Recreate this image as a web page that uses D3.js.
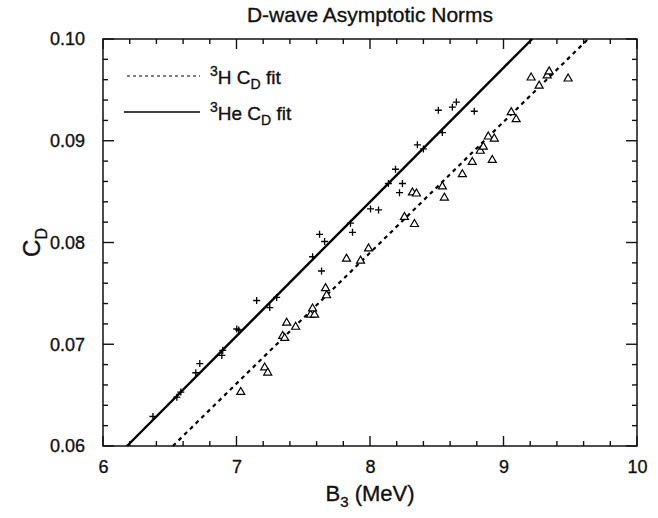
<!DOCTYPE html>
<html>
<head>
<meta charset="utf-8">
<script src="https://cdn.jsdelivr.net/npm/d3@7"></script>
<style>
  body { margin: 0; background: #fff; }
  svg { font-family: "Liberation Sans", Arial, sans-serif; }
  .lbl { fill: #111; stroke: #111; stroke-width: 0.35px; }
</style>
</head>
<body>
<script>
// chart size
const width = 658;
const height = 518;
const margin = { left: 103, right: 21, top: 39, bottom: 72 };

// 3He points (plus markers): binding energy (MeV) and C_D
const heB = [6.374, 6.553, 6.583, 6.695, 6.725, 6.890, 6.897, 7.002, 7.017, 7.151,
             7.249, 7.301, 7.570, 7.637, 7.622, 7.660, 7.854, 7.869, 8.004, 8.064,
             8.138, 8.221, 8.243, 8.191, 8.355, 8.400, 8.512, 8.542, 8.617, 8.647, 8.781];
const heC = [0.0629, 0.0648, 0.0653, 0.0672, 0.0681, 0.0689, 0.0694, 0.0715, 0.0714, 0.0743,
             0.0736, 0.0746, 0.0786, 0.0772, 0.0808, 0.0801, 0.0819, 0.0810, 0.0833, 0.0832,
             0.0858, 0.0849, 0.0858, 0.0872, 0.0896, 0.0892, 0.0930, 0.0908, 0.0933, 0.0938, 0.0929];

// 3H points (triangle markers)
const hB = [7.032, 7.211, 7.234, 7.346, 7.361, 7.376, 7.443, 7.555, 7.585, 7.570,
            7.667, 7.675, 7.824, 7.929, 7.989, 8.258, 8.333, 8.318, 8.348, 8.542,
            8.557, 8.692, 8.766, 8.916, 8.826, 8.849, 8.886, 8.931, 9.058, 9.095,
            9.267, 9.207, 9.327, 9.342, 9.484];
const hC = [0.0653, 0.0677, 0.0672, 0.0708, 0.0706, 0.0721, 0.0717, 0.0729, 0.0729, 0.0735,
            0.0755, 0.0748, 0.0784, 0.0782, 0.0794, 0.0825, 0.0818, 0.0849, 0.0848, 0.0855,
            0.0844, 0.0867, 0.0879, 0.0881, 0.0890, 0.0894, 0.0904, 0.0902, 0.0928, 0.0921,
            0.0954, 0.0962, 0.0964, 0.0968, 0.0961];

// linear fits (end points)
const heFitB = [6.18, 9.215];
const heFitC = [0.06, 0.10];
const hFitB = [6.523, 9.634];
const hFitC = [0.06, 0.10];

// ticks
const xMajor = [6, 7, 8, 9, 10];
const yMajor = [0.06, 0.07, 0.08, 0.09, 0.10];
const xMinor = [6.2, 6.4, 6.6, 6.8, 7.2, 7.4, 7.6, 7.8, 8.2, 8.4, 8.6, 8.8, 9.2, 9.4, 9.6, 9.8];
const yMinor = [0.062, 0.064, 0.066, 0.068, 0.072, 0.074, 0.076, 0.078,
                0.082, 0.084, 0.086, 0.088, 0.092, 0.094, 0.096, 0.098];

var svg = d3.select("body").append("svg")
    .attr("width", width)
    .attr("height", height);

var x_scale = d3.scaleLinear().domain([6, 10]).range([margin.left, width - margin.right]);
var y_scale = d3.scaleLinear().domain([0.06, 0.10]).range([height - margin.bottom, margin.top]);

const x0 = margin.left, x1 = width - margin.right;
const y0 = height - margin.bottom, y1 = margin.top;

// inward tick marks on all four sides
var ticks = svg.append("g").attr("stroke", "#111").attr("stroke-width", 1.4);
function xTicks(values, len) {
    values.forEach(v => {
        ticks.append("line").attr("x1", x_scale(v)).attr("x2", x_scale(v))
            .attr("y1", y0).attr("y2", y0 - len);
        ticks.append("line").attr("x1", x_scale(v)).attr("x2", x_scale(v))
            .attr("y1", y1).attr("y2", y1 + len);
    });
}
function yTicks(values, len) {
    values.forEach(v => {
        ticks.append("line").attr("y1", y_scale(v)).attr("y2", y_scale(v))
            .attr("x1", x0).attr("x2", x0 + len);
        ticks.append("line").attr("y1", y_scale(v)).attr("y2", y_scale(v))
            .attr("x1", x1).attr("x2", x1 - len);
    });
}
xTicks(xMinor, 5);
xTicks(xMajor, 10);
yTicks(yMinor, 5);
yTicks(yMajor, 11);

// tick labels via axis generators
function styleAxis(g) {
    g.select(".domain").remove();
    g.selectAll(".tick line").remove();
    g.selectAll("text").attr("class", "lbl").style("font-size", "18px");
}
svg.append("g").attr("transform", "translate(0," + y0 + ")")
    .call(d3.axisBottom(x_scale).tickValues(xMajor).tickSize(0).tickPadding(14).tickFormat(d3.format("d")))
    .call(styleAxis);
svg.append("g").attr("transform", "translate(" + x0 + ",0)")
    .call(d3.axisLeft(y_scale).tickValues(yMajor).tickSize(0).tickPadding(18).tickFormat(d3.format(".2f")))
    .call(styleAxis);

// frame
svg.append("rect")
    .attr("x", x0).attr("y", y1)
    .attr("width", x1 - x0).attr("height", y0 - y1)
    .attr("fill", "none").attr("stroke", "#111").attr("stroke-width", 1.5);

// fit lines
var line = d3.line().x(d => x_scale(d[0])).y(d => y_scale(d[1]));
svg.append("path")
    .attr("d", line(d3.zip(heFitB, heFitC)))
    .attr("fill", "none").attr("stroke", "#000").attr("stroke-width", 2.4);
svg.append("path")
    .attr("d", line(d3.zip(hFitB, hFitC)))
    .attr("fill", "none").attr("stroke", "#000").attr("stroke-width", 2.2)
    .attr("stroke-dasharray", "4,4");

// 3He plus markers
svg.selectAll("path.plus")
    .data(d3.zip(heB, heC))
    .enter()
    .append("path")
    .attr("class", "plus")
    .attr("transform", d => "translate(" + x_scale(d[0]) + "," + y_scale(d[1]) + ")")
    .attr("d", "M-3.5,0H3.5M0,-3.5V3.5")
    .attr("stroke", "#000").attr("stroke-width", 1.3);

// 3H triangle markers
svg.selectAll("path.tri")
    .data(d3.zip(hB, hC))
    .enter()
    .append("path")
    .attr("class", "tri")
    .attr("transform", d => "translate(" + x_scale(d[0]) + "," + y_scale(d[1]) + ")")
    .attr("d", d3.symbol().type(d3.symbolTriangle).size(28))
    .attr("fill", "#fff").attr("stroke", "#000").attr("stroke-width", 1.2);

// legend
svg.append("line")
    .attr("x1", 127).attr("x2", 200).attr("y1", 76).attr("y2", 76)
    .attr("stroke", "#000").attr("stroke-width", 1.2).attr("stroke-dasharray", "3,3");
svg.append("line")
    .attr("x1", 124).attr("x2", 200).attr("y1", 112).attr("y2", 112)
    .attr("stroke", "#000").attr("stroke-width", 1.3);

function legendText(y, nucleus) {
    var t = svg.append("text").attr("x", 210).attr("y", y)
        .attr("class", "lbl").style("font-size", "19px");
    t.append("tspan").attr("dy", -8).style("font-size", "14px").text("3");
    t.append("tspan").attr("dy", 8).text(nucleus + " C");
    t.append("tspan").attr("dy", 5).style("font-size", "14px").text("D");
    t.append("tspan").attr("dy", -5).text(" fit");
}
legendText(84, "H");
legendText(120, "He");

// title
svg.append("text")
    .attr("x", (x0 + x1) / 2).attr("y", 22)
    .attr("class", "lbl")
    .style("text-anchor", "middle").style("font-size", "21px")
    .text("D-wave Asymptotic Norms");

// x axis title
var xt = svg.append("text")
    .attr("x", (x0 + x1) / 2).attr("y", 501)
    .attr("class", "lbl")
    .style("text-anchor", "middle").style("font-size", "22px");
xt.append("tspan").text("B");
xt.append("tspan").attr("dy", 6).style("font-size", "15px").text("3");
xt.append("tspan").attr("dy", -6).text(" (MeV)");

// y axis title
var yt = svg.append("text")
    .attr("transform", "translate(40," + ((y0 + y1) / 2) + ") rotate(-90)")
    .attr("class", "lbl")
    .style("text-anchor", "middle").style("font-size", "24px");
yt.append("tspan").text("C");
yt.append("tspan").attr("dy", 7).style("font-size", "16px").text("D");
</script>
</body>
</html>
